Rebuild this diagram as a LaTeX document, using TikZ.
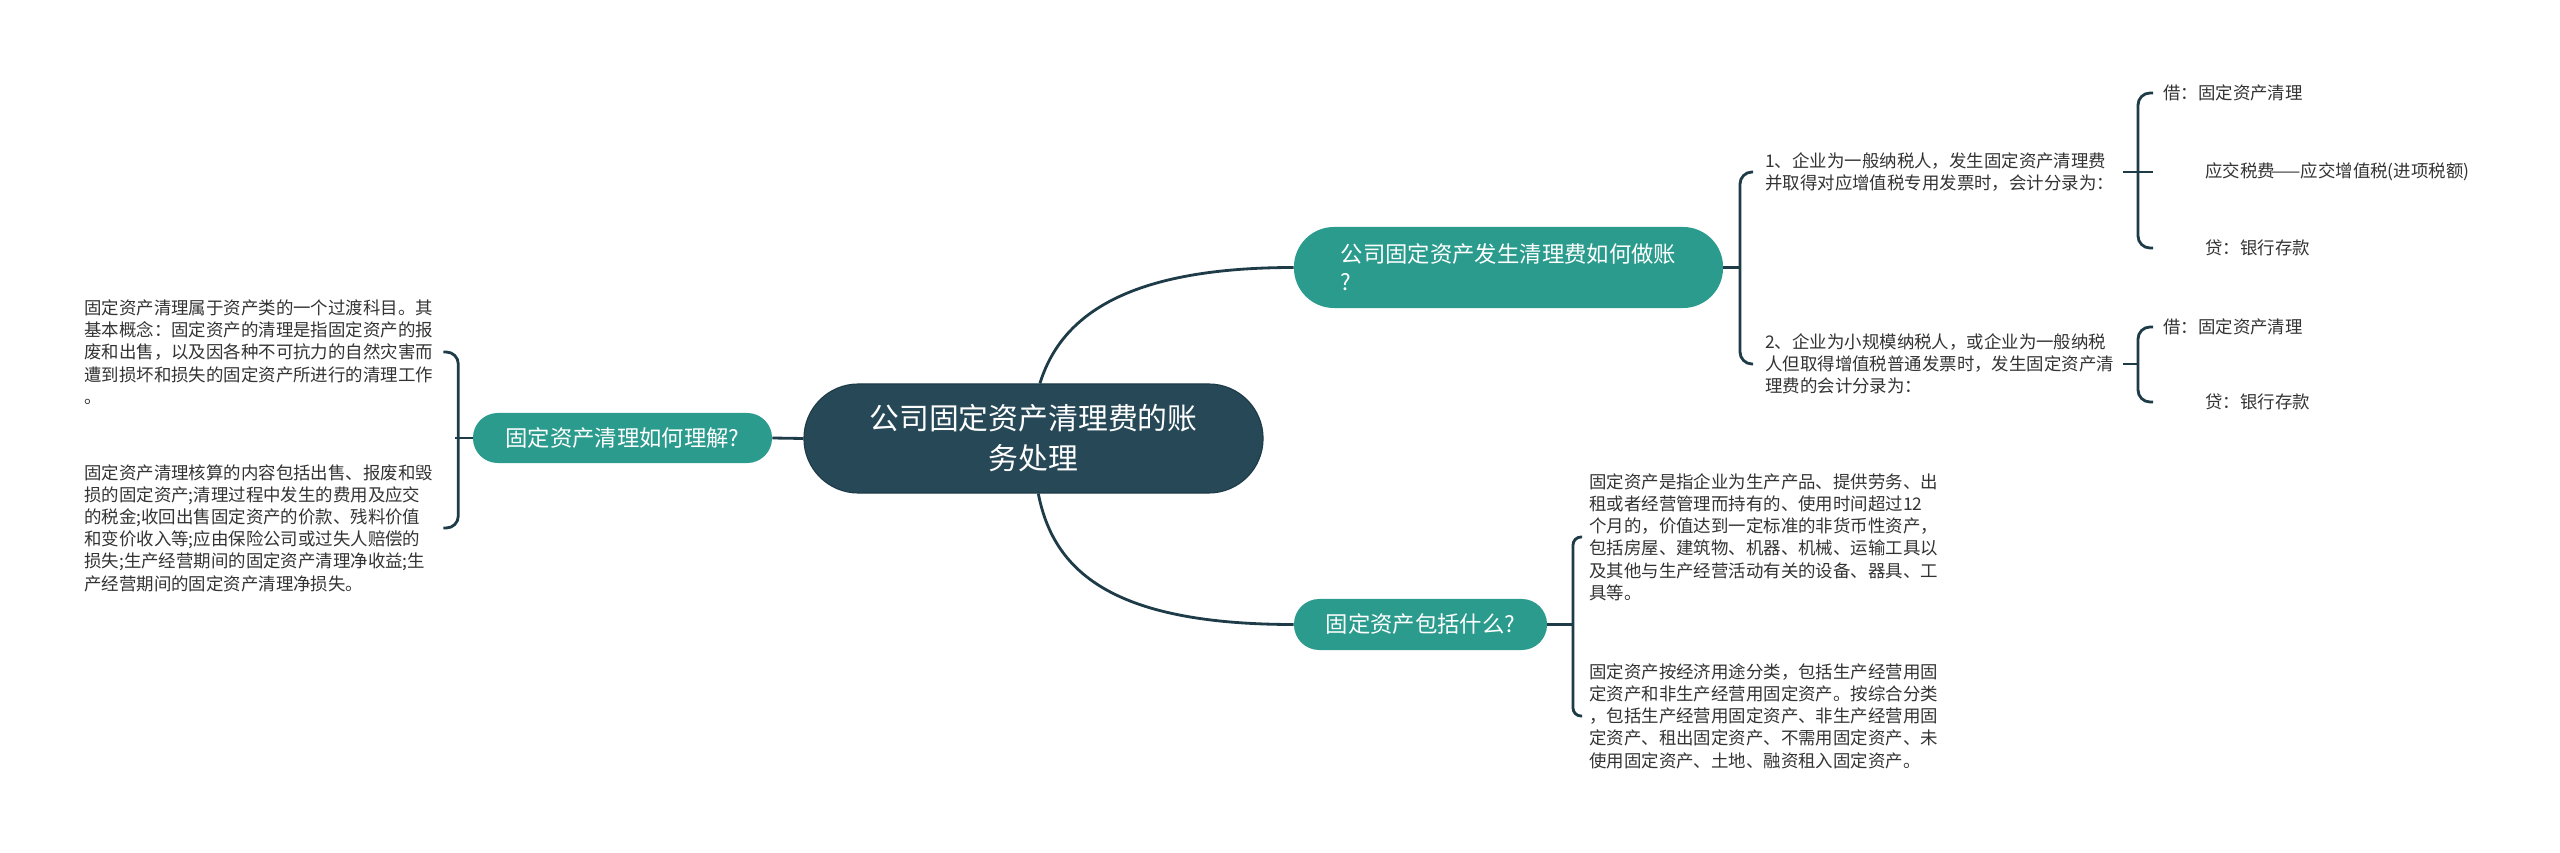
\documentclass[tikz,border=0pt]{standalone}
\usepackage{fontspec}
\setmainfont{Noto Sans CJK SC}
\usetikzlibrary{positioning,calc}
\definecolor{rootfill}{HTML}{274856}
\definecolor{topicfill}{HTML}{2A9B8C}
\definecolor{linkcol}{HTML}{1E3B48}
\definecolor{textcol}{HTML}{333333}

\begin{document}
\begin{tikzpicture}[
    x=0.025cm, y=-0.025cm,
    root/.style={draw=linkcol, line width=0.8pt, fill=rootfill, text=white, rounded corners=1.36cm, minimum width=11.475cm, minimum height=2.725cm, align=center, inner sep=0pt, font=\fontsize{21.2}{28.5}\selectfont},
    topic/.style={fill=topicfill, text=white, align=left, inner sep=0pt, font=\fontsize{15.9}{20}\selectfont},
    note/.style={text=textcol, anchor=west, align=left, inner sep=0pt, font=\fontsize{12.4}{15.8}\selectfont},
    link/.style={draw=linkcol, line width=2pt},
    brace/.style={link, rounded corners=0.3cm}
]
    \useasboundingbox (0,0) rectangle (2560,853);

    % Root
    \node[root] (root) at (1033.5,438.5) {公司固定资产清理费的账\\务处理};

    % Topics
    \node[topic, minimum width=7.475cm, minimum height=1.25cm, rounded corners=0.62cm] (q0) at (622.5,438) {固定资产清理如何理解?};
    \node[topic, minimum width=10.725cm, minimum height=2.025cm, rounded corners=1cm] (q1) at (1508.5,267.5) {公司固定资产发生清理费如何做账\\?};
    \node[topic, minimum width=6.325cm, minimum height=1.275cm, rounded corners=0.63cm] (q2) at (1420.5,624.5) {固定资产包括什么?};

    % Notes on the left
    \node[note] (la) at (84,352) {固定资产清理属于资产类的一个过渡科目。其\\基本概念：固定资产的清理是指固定资产的报\\废和出售，以及因各种不可抗力的自然灾害而\\遭到损坏和损失的固定资产所进行的清理工作\\。};
    \node[note] (lb) at (84,528) {固定资产清理核算的内容包括出售、报废和毁\\损的固定资产;清理过程中发生的费用及应交\\的税金;收回出售固定资产的价款、残料价值\\和变价收入等;应由保险公司或过失人赔偿的\\损失;生产经营期间的固定资产清理净收益;生\\产经营期间的固定资产清理净损失。};

    % Notes on the right
    \node[note] (ra) at (1765,172) {1、企业为一般纳税人，发生固定资产清理费\\并取得对应增值税专用发票时，会计分录为：};
    \node[note] (rb) at (1765,364) {2、企业为小规模纳税人，或企业为一般纳税\\人但取得增值税普通发票时，发生固定资产清\\理费的会计分录为：};
    \node[note] (rc) at (1589,537) {固定资产是指企业为生产产品、提供劳务、出\\租或者经营管理而持有的、使用时间超过12\\个月的，价值达到一定标准的非货币性资产，\\包括房屋、建筑物、机器、机械、运输工具以\\及其他与生产经营活动有关的设备、器具、工\\具等。};
    \node[note] (rd) at (1589,716) {固定资产按经济用途分类，包括生产经营用固\\定资产和非生产经营用固定资产。按综合分类\\，包括生产经营用固定资产、非生产经营用固\\定资产、租出固定资产、不需用固定资产、未\\使用固定资产、土地、融资租入固定资产。};

    % Entries
    \node[note] (d1) at (2163,93) {借：固定资产清理};
    \node[note] (d2) at (2163,172) {\hspace*{1.05cm}应交税费\kern-0.2em——应交增值税(进项税额)};
    \node[note] (d3) at (2163,248) {\hspace*{1.05cm}贷：银行存款};
    \node[note] (d4) at (2163,327) {借：固定资产清理};
    \node[note] (d5) at (2163,402) {\hspace*{1.05cm}贷：银行存款};

    % Connections
    \draw[link] (root.west) -- (q0.east);
    \draw[link] ([xshift=0.16cm]root.north) .. controls +(20,-64) and +(-173,0) .. (q1.west);
    \draw[link] ([xshift=0.12cm]root.south) .. controls +(15,77) and +(-183,0) .. (q2.west);

    % Brackets
    \draw[link] (q0.west) -- ++(-18,0);
    \draw[brace] ([xshift=0.25cm]la.east) -- ++(15,0) |- ([xshift=0.25cm]lb.east);
    \draw[link] (q1.east) -- ++(17,0);
    \draw[brace] ([xshift=-0.3cm]ra.west) -- ++(-13,0) |- ([xshift=-0.3cm]rb.west);
    \draw[link] (q2.east) -- ++(26,0);
    \draw[brace, rounded corners=0.2cm] ([xshift=-0.175cm]rc.west) -- ++(-9,0) |- ([xshift=-0.175cm]rd.west);

    \coordinate (ja) at (2123,172);
    \coordinate (jb) at (2123,364);
    \draw[link] (ja) -- ([xshift=-0.25cm]d2.west);
    \draw[brace] ([xshift=-0.25cm]d1.west) -- ++(-15,0) |- ([xshift=-0.25cm]d3.west);
    \draw[link] (jb) -- ++(15,0);
    \draw[brace] ([xshift=-0.25cm]d4.west) -- ++(-15,0) |- ([xshift=-0.25cm]d5.west);

\end{tikzpicture}
\end{document}
